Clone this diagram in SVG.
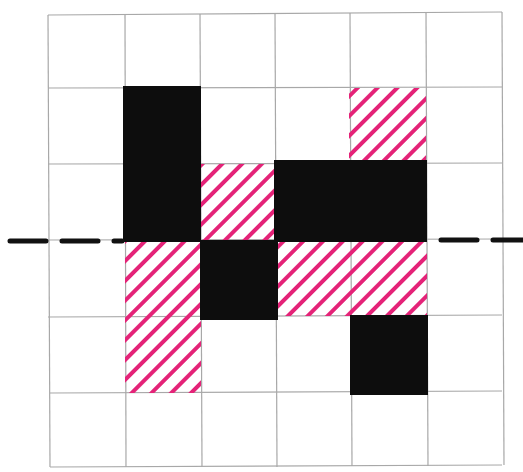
<svg xmlns="http://www.w3.org/2000/svg" width="523" height="472" viewBox="0 0 523 472">
<defs>
<pattern id="hatch" width="14" height="14" patternUnits="userSpaceOnUse" patternTransform="rotate(45)">
<line x1="7" y1="0" x2="7" y2="14" stroke="#e42378" stroke-width="4"/>
</pattern>
<style>
.grid line{stroke:#a8a8a8;stroke-width:1.2}
.blk{fill:#0d0d0d}
.hat{fill:url(#hatch)}
.dash{stroke:#111;stroke-width:5;stroke-dasharray:36 16;stroke-linecap:round;fill:none}
</style>
</defs>
<rect width="523" height="472" fill="#fff"/>
<g id="grid" class="grid">
<line x1="48" y1="15" x2="502" y2="12"/>
<line x1="48" y1="88" x2="502" y2="87"/>
<line x1="48" y1="164" x2="502" y2="163"/>
<line x1="48" y1="240" x2="502" y2="239"/>
<line x1="48" y1="317" x2="502" y2="315"/>
<line x1="50" y1="393" x2="502" y2="391"/>
<line x1="50" y1="467" x2="502" y2="465"/>
<line x1="48" y1="15" x2="50" y2="467"/>
<line x1="125" y1="15" x2="126" y2="467"/>
<line x1="200" y1="14" x2="202" y2="467"/>
<line x1="275" y1="14" x2="277" y2="467"/>
<line x1="350" y1="13" x2="352" y2="466"/>
<line x1="426" y1="13" x2="428" y2="466"/>
<line x1="502" y1="12" x2="504" y2="465"/>
</g>
<g id="hatch-c4r1"><rect class="hat" x="349" y="88" width="77" height="76"/></g>
<g id="hatch-c2r2"><rect class="hat" x="201" y="164" width="74" height="76"/></g>
<g id="hatch-c1r3"><rect class="hat" x="125" y="240" width="76" height="153"/></g>
<g id="hatch-c3r3"><rect class="hat" x="277" y="240" width="150" height="76"/></g>
<g id="black-c1r1"><rect class="blk" x="123" y="86" width="78" height="156"/></g>
<g id="black-c3r2"><rect class="blk" x="274" y="160" width="153" height="82"/></g>
<g id="black-c2r3"><rect class="blk" x="200" y="240" width="78" height="80"/></g>
<g id="black-c4r4"><rect class="blk" x="350" y="315" width="78" height="80"/></g>
<g id="connectors">
<path class="dash" d="M10 241 L122 241"/>
<path class="dash" d="M441 240 L523 240"/>
</g>
</svg>
